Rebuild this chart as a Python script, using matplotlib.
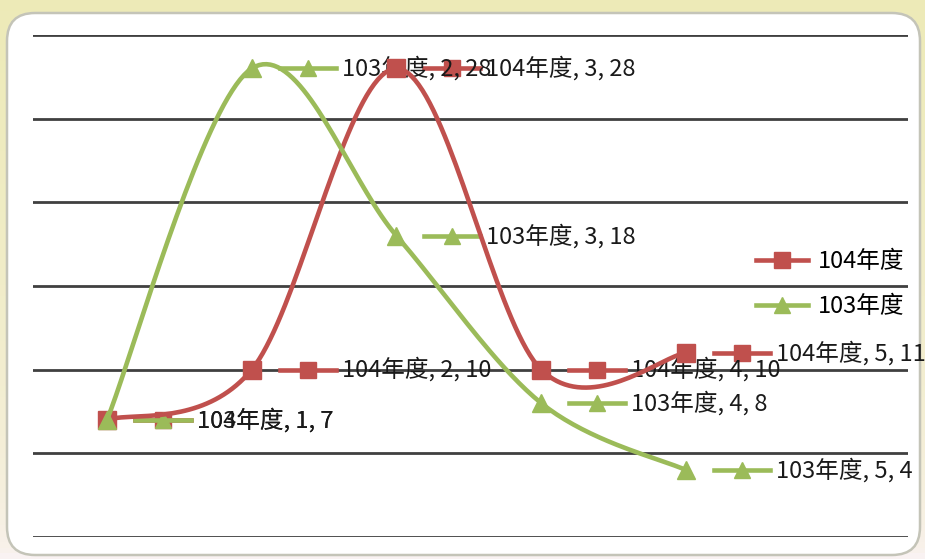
import numpy as np
import matplotlib
matplotlib.use("Agg")
import matplotlib.pyplot as plt
from matplotlib.patches import FancyBboxPatch
from matplotlib.lines import Line2D
from matplotlib.transforms import offset_copy

plt.rcParams['font.family'] = ['Noto Sans CJK TC', 'DejaVu Sans']

# Data
categories = [1, 2, 3, 4, 5]
series_names = ['104年度', '103年度']
values_104 = [7, 10, 28, 10, 11]
values_103 = [7, 28, 18, 8, 4]

RED = '#C0504D'
GREEN = '#9BBB59'
W, H = 925, 559


def smooth_curve(xs, ys, steps=40):
    """Bezier smoothing through the points, control points from neighbours (Excel style)."""
    pts = np.column_stack([xs, ys]).astype(float)
    n = len(pts)
    out = []
    for i in range(n - 1):
        p0 = pts[i - 1] if i > 0 else pts[i]
        p1, p2 = pts[i], pts[i + 1]
        p3 = pts[i + 2] if i + 2 < n else pts[i + 1]
        c1 = p1 + (p2 - p0) / 6.0
        c2 = p2 - (p3 - p1) / 6.0
        t = np.linspace(0, 1, steps)[:, None]
        seg = ((1 - t) ** 3) * p1 + 3 * ((1 - t) ** 2) * t * c1 + 3 * (1 - t) * t ** 2 * c2 + t ** 3 * p2
        out.append(seg if i == 0 else seg[1:])
    seg = np.vstack(out)
    return seg[:, 0], seg[:, 1]


fig = plt.figure(figsize=(W / 100, H / 100), dpi=100)

# Background panel: soft gradient with a rounded white card
bg = fig.add_axes([0, 0, 1, 1])
bg.set_xlim(0, W)
bg.set_ylim(H, 0)
bg.axis('off')
grad = np.linspace(0, 1, 100)[:, None]
top = np.array([0.93, 0.92, 0.72])
bottom = np.array([0.98, 0.95, 0.95])
img = top * (1 - grad[..., None]) ** 0.5 + bottom * (1 - (1 - grad[..., None]) ** 0.5)
img = np.repeat(img, 2, axis=1)
bg.imshow(img, extent=[0, W, H, 0], aspect='auto', zorder=0)
card = FancyBboxPatch((7, 13), 913, 542, boxstyle='round,pad=0,rounding_size=28',
                      facecolor='white', edgecolor='#C4C4B8', linewidth=1.8, zorder=1)
bg.add_patch(card)

# Plot area
ax = fig.add_axes([33 / W, (H - 537) / H, 875 / W, 502 / H])
ax.patch.set_alpha(0)
ax.set_xlim(0.489, 6.534)
ax.set_ylim(0, 30)
for s in ax.spines.values():
    s.set_visible(False)
ax.set_xticks([])
ax.set_yticks([])
for g in range(0, 31, 5):
    ax.axhline(g, color='#404040', linewidth=2, zorder=1)

series = [
    (series_names[0], values_104, RED, 's', 4),
    (series_names[1], values_103, GREEN, '^', 5),
]

handles = []
for name, vals, color, marker, z in series:
    sx, sy = smooth_curve(categories, vals)
    ax.plot(sx, sy, color=color, linewidth=3.3, zorder=z, solid_capstyle='round')
    ax.plot(categories, vals, linestyle='none', marker=marker, markersize=13,
            color=color, zorder=z)
    handles.append(Line2D([], [], color=color, linewidth=3.3, marker=marker, markersize=11))

# Data labels: legend key followed by "series, category, value"
inv = ax.transData.inverted()
for k, (name, vals, color, marker, z) in enumerate(series):
    for x, y in zip(categories, vals):
        xp, yp = ax.transData.transform((x, y))
        x0 = inv.transform((xp + 28, yp))[0]
        x1 = inv.transform((xp + 84, yp))[0]
        xm = inv.transform((xp + 56, yp))[0]
        ax.plot([x0, x1], [y, y], color=color, linewidth=3.3, zorder=3 + k * 0.1)
        ax.plot([xm], [y], marker=marker, markersize=11, color=color, zorder=3 + k * 0.1)
        ax.text(x, y, f'{name}, {x}, {y}', fontsize=17, color='#1a1a1a', va='center', ha='left',
                transform=offset_copy(ax.transData, fig=fig, x=90, y=0, units='dots'),
                zorder=3.05 + k * 0.1)

ax.legend(handles=handles, labels=series_names, loc='center left',
          bbox_to_anchor=(756 / W, 1 - 284 / H), bbox_transform=fig.transFigure,
          frameon=False, fontsize=17, handlelength=2.2, handletextpad=0.4,
          labelspacing=0.95, borderaxespad=0, borderpad=0)

fig.savefig('out.png', dpi=100)
